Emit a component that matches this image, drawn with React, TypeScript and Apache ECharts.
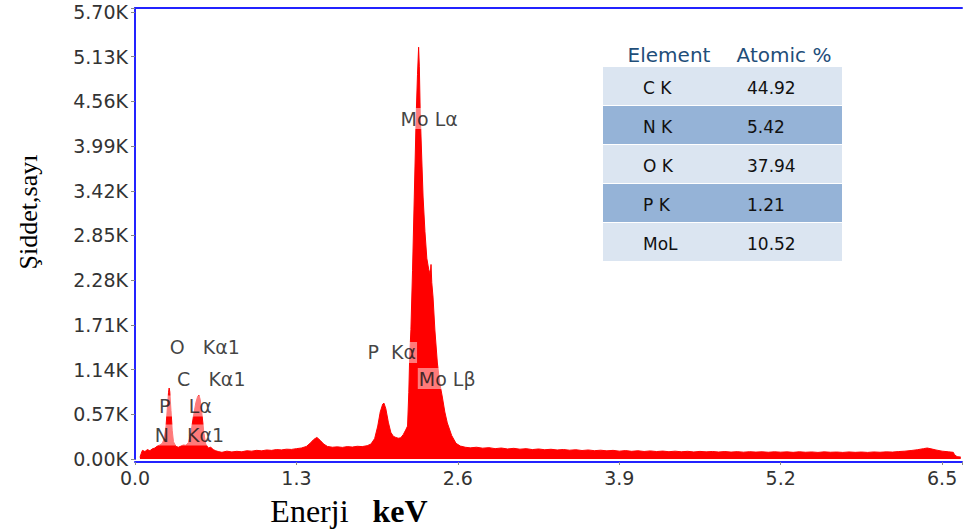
import React, { useEffect, useRef } from 'react';
import * as echarts from 'echarts';

// Spectrum: energy (keV) and intensity (counts)
const energy = [
  0.04, 0.05, 0.06, 0.08, 0.10, 0.12, 0.14, 0.16, 0.18, 0.20, 0.22, 0.235, 0.25, 0.26, 0.27, 0.275, 0.28, 0.29, 0.30, 0.31, 0.33, 0.35, 0.37, 0.39,
  0.41, 0.43, 0.45, 0.47, 0.49, 0.505, 0.515, 0.525, 0.54, 0.555, 0.57, 0.59, 0.61, 0.63, 0.65,
  0.67, 0.70, 0.74, 0.78, 0.82, 0.86, 0.90, 0.94, 0.98, 1.02, 1.06, 1.10, 1.14, 1.18, 1.22, 1.26, 1.30, 1.34, 1.38,
  1.41, 1.44, 1.465, 1.49, 1.52, 1.55,
  1.59, 1.63, 1.67, 1.71, 1.75, 1.79, 1.83, 1.87, 1.90,
  1.93, 1.955, 1.975, 1.995, 2.005, 2.02, 2.04, 2.06, 2.08, 2.10, 2.12, 2.14, 2.16, 2.18,
  2.195, 2.205, 2.212, 2.222, 2.235, 2.249, 2.265, 2.275, 2.284, 2.29, 2.297, 2.31, 2.32, 2.335, 2.35, 2.365, 2.378, 2.384, 2.39, 2.40,
  2.415, 2.435, 2.455, 2.475, 2.495, 2.515, 2.55, 2.585, 2.62,
  2.66, 2.70, 2.75, 2.80, 2.85, 2.90, 2.95, 3.00, 3.05, 3.10, 3.15, 3.20, 3.25, 3.30, 3.35, 3.40, 3.45, 3.50, 3.55, 3.60,
  3.65, 3.70, 3.75, 3.80, 3.85, 3.90, 3.95, 4.00, 4.05, 4.10, 4.15, 4.20, 4.25, 4.30, 4.35, 4.40, 4.45, 4.50, 4.55, 4.60,
  4.65, 4.70, 4.75, 4.80, 4.85, 4.90, 4.95, 5.00, 5.05, 5.10, 5.15, 5.20, 5.25, 5.30, 5.35, 5.40, 5.45, 5.50, 5.55, 5.60,
  5.65, 5.70, 5.75, 5.80, 5.85, 5.90, 5.95, 6.00, 6.05, 6.10, 6.15, 6.20, 6.25, 6.30, 6.35, 6.38, 6.41, 6.45, 6.50, 6.55,
  6.59, 6.60, 6.62, 6.65,
];
const counts = [
  20, 70, 110, 95, 120, 105, 130, 140, 165, 180, 200, 260, 420, 640, 850, 905, 860, 620, 360, 220, 160, 150, 165, 180,
  175, 210, 330, 540, 720, 800, 815, 760, 560, 330, 190, 140, 150, 120, 105,
  95, 85, 100, 90, 98, 92, 105, 100, 110, 104, 115, 110, 120, 116, 125, 122, 132, 140, 160,
  200, 250, 275, 240, 190, 160,
  150, 155, 148, 158, 152, 162, 158, 170, 190,
  260, 420, 600, 700, 712, 640, 470, 340, 290, 275, 265, 270, 310, 370,
  420, 850, 1300, 1650, 2400, 3340, 4410, 4900, 5250, 5000, 4410, 3800, 3340, 2900, 2560, 2420, 2350, 2480, 2250, 2065,
  1645, 1224, 960, 790, 600, 460, 300, 200, 165,
  150, 142, 150, 138, 145, 132, 140, 128, 136, 125, 132, 120, 128, 118, 124, 115, 121, 112, 118, 108,
  115, 106, 112, 104, 110, 100, 107, 98, 105, 96, 103, 95, 101, 93, 100, 92, 98, 90, 97, 91,
  96, 89, 95, 88, 94, 87, 93, 88, 92, 86, 92, 87, 91, 85, 92, 86, 90, 84, 91, 86,
  89, 84, 90, 85, 89, 84, 90, 86, 91, 88, 95, 100, 108, 118, 132, 140, 130, 115, 100, 92,
  85, 55, 30, 25,
];

// Axis settings
const xMax = 6.66;
const xStep = 1.3;
const yMax = 5750;
const yStep = 570;

// Peak annotations
const peakNames = ['Mo Lα', 'P  Kα', 'Mo Lβ', 'O   Kα1', 'C   Kα1', 'P   Lα', 'N   Kα1'];
const peakEnergy = [2.369, 2.068, 2.514, 0.562, 0.614, 0.406, 0.438];
const peakCounts = [4341, 1358, 1026, 1422, 1020, 676, 306];

// Composition table
const tableHeaders = ['Element', 'Atomic %'];
const tableElements = ['C K', 'N K', 'O K', 'P K', 'MoL'];
const tableAtomic = ['44.92', '5.42', '37.94', '1.21', '10.52'];

const SANS = 'DejaVu Sans, Verdana, sans-serif';
const SERIF = 'Liberation Serif, Times New Roman, serif';
const BLUE = '#2323ff';

export default function App() {
  const ref = useRef<HTMLDivElement>(null);

  useEffect(() => {
    if (!ref.current) return;
    const chart = echarts.init(ref.current, undefined, { renderer: 'svg' });

    const isStep = (v: number, s: number) => Math.abs(v / s - Math.round(v / s)) < 1e-6;

    const tableLeft = 603;
    const tableWidth = 239;
    const rowTop = 67;
    const rowH = 39;
    const graphics: any[] = [];
    tableElements.forEach((el, i) => {
      const top = rowTop + i * rowH;
      graphics.push({
        type: 'rect',
        shape: { x: tableLeft, y: top, width: tableWidth, height: rowH - 1 },
        style: { fill: i % 2 === 0 ? '#dbe5f1' : '#95b3d7' },
        z: 10,
      });
      graphics.push({
        type: 'text',
        x: 643,
        y: top + 21,
        style: { text: el, fontSize: 17, fontFamily: SANS, fill: '#111', align: 'left', verticalAlign: 'middle' },
        z: 11,
      });
      graphics.push({
        type: 'text',
        x: 747,
        y: top + 21,
        style: { text: tableAtomic[i], fontSize: 17, fontFamily: SANS, fill: '#111', align: 'left', verticalAlign: 'middle' },
        z: 11,
      });
    });
    graphics.push({
      type: 'text', x: 669, y: 55,
      style: { text: tableHeaders[0], fontSize: 20, fontFamily: SANS, fill: '#1f4e79', align: 'center', verticalAlign: 'middle' },
      z: 11,
    });
    graphics.push({
      type: 'text', x: 784, y: 55,
      style: { text: tableHeaders[1], fontSize: 20, fontFamily: SANS, fill: '#1f4e79', align: 'center', verticalAlign: 'middle' },
      z: 11,
    });
    // axis titles
    graphics.push({
      type: 'text', x: 28, y: 212, rotation: Math.PI / 2,
      style: { text: 'Şiddet,sayı', fontSize: 26, fontFamily: SERIF, fill: '#000', align: 'center', verticalAlign: 'middle' },
      z: 11,
    });
    graphics.push({
      type: 'text', x: 349, y: 511,
      style: {
        text: '{a|Enerji}   {b|keV}',
        align: 'center', verticalAlign: 'middle', fontSize: 32, fontFamily: SERIF,
        rich: {
          a: { fontSize: 32, fontFamily: SERIF, fill: '#000', color: '#000' },
          b: { fontSize: 32, fontFamily: SERIF, fontWeight: 'bold', fill: '#000', color: '#000' },
        },
      },
      z: 11,
    });

    chart.setOption({
      animation: false,
      backgroundColor: '#ffffff',
      grid: { left: 135, right: 1, top: 8, bottom: 73, containLabel: false },
      xAxis: [
        {
          type: 'value',
          min: 0,
          max: xMax,
          interval: xStep,
          offset: 3,
          axisLine: { show: true, onZero: false, lineStyle: { color: BLUE, width: 2 } },
          axisTick: { show: true, length: 3, lineStyle: { color: '#888' } },
          axisLabel: {
            margin: 6,
            fontSize: 19,
            fontFamily: SANS,
            color: '#333',
            formatter: (v: number) => (isStep(v, xStep) ? v.toFixed(1) : ''),
          },
          splitLine: { show: false },
        },
        {
          type: 'value',
          position: 'top',
          min: 0,
          max: xMax,
          axisLine: { show: true, onZero: false, lineStyle: { color: BLUE, width: 2 } },
          axisTick: { show: false },
          axisLabel: { show: false },
          splitLine: { show: false },
        },
      ],
      yAxis: {
        type: 'value',
        min: 0,
        max: yMax,
        interval: yStep,
        axisLine: { show: true, onZero: false, lineStyle: { color: BLUE, width: 2 } },
        axisTick: { show: true, length: 4, lineStyle: { color: '#888' } },
        axisLabel: {
          margin: 7,
          fontSize: 19,
          fontFamily: SANS,
          color: '#333',
          formatter: (v: number) => (isStep(v, yStep) ? (v / 1000).toFixed(2) + 'K' : ''),
        },
        splitLine: { show: false },
      },
      series: [
        {
          type: 'line',
          data: energy.map((e, i) => [e, counts[i]]),
          showSymbol: false,
          symbol: 'none',
          lineStyle: { color: '#ff0000', width: 1 },
          areaStyle: { color: '#ff0000', opacity: 1 },
          z: 2,
        },
        {
          type: 'scatter',
          data: peakNames.map((n, i) => ({ name: n, value: [peakEnergy[i], peakCounts[i]] })),
          symbolSize: 1,
          itemStyle: { color: 'rgba(0,0,0,0)' },
          silent: true,
          label: {
            show: true,
            position: 'inside',
            formatter: (p: any) => p.name,
            fontSize: 19,
            fontFamily: SANS,
            color: '#111',
            backgroundColor: 'rgba(255,255,255,0.6)',
            padding: [1, 1],
          },
          labelLayout: { hideOverlap: false },
          z: 5,
        },
      ],
      graphic: graphics,
    });

    return () => chart.dispose();
  }, []);

  return (
    <div
      ref={ref}
      style={{ position: 'absolute', left: 0, top: 0, width: 965, height: 532, background: '#fff' }}
    />
  );
}
